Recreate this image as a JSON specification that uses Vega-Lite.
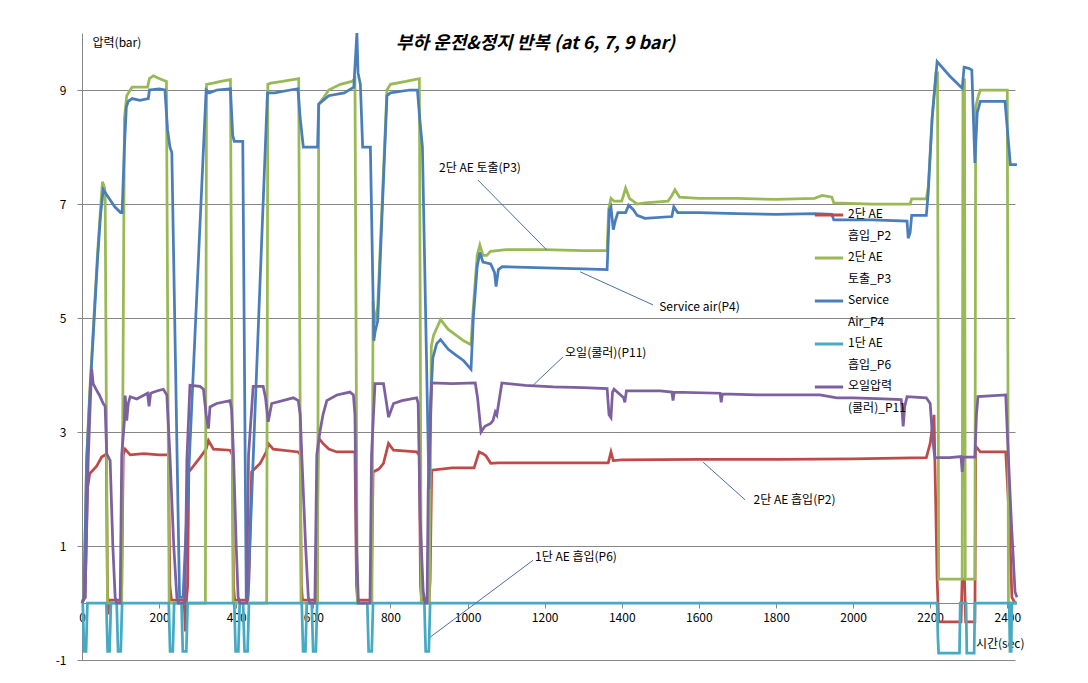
{
"$schema":"https://vega.github.io/schema/vega-lite/v6.json",
"width":933,"height":627,
"autosize":{"type":"none"},
"padding":{"left":82,"top":33,"right":73,"bottom":23},
"background":"#ffffff",
"title":{"text":"부하 운전&정지 반복 (at 6, 7, 9 bar)","fontSize":18,"fontWeight":"bold","fontStyle":"italic","font":"Noto Sans CJK KR","offset":-25,"dx":-13,"anchor":"middle","color":"#000000"},
"config":{"view":{"stroke":null},"font":"Noto Sans CJK KR"},
"datasets":{
"P2":[{"t":0,"p":0.1},{"t":8,"p":0.1},{"t":14,"p":2.0},{"t":20,"p":2.27},{"t":38,"p":2.4},{"t":51,"p":2.56},{"t":60,"p":2.6},{"t":63,"p":2.6},{"t":66,"p":0.3},{"t":68,"p":-0.2},{"t":70,"p":0.05},{"t":100,"p":0.05},{"t":103,"p":0.3},{"t":107,"p":2.6},{"t":112,"p":2.7},{"t":125,"p":2.6},{"t":160,"p":2.62},{"t":200,"p":2.6},{"t":224,"p":2.6},{"t":228,"p":0.3},{"t":232,"p":0.05},{"t":265,"p":0.05},{"t":268,"p":-0.5},{"t":271,"p":0.05},{"t":274,"p":0.3},{"t":277,"p":2.3},{"t":306,"p":2.55},{"t":322,"p":2.7},{"t":328,"p":2.85},{"t":341,"p":2.7},{"t":384,"p":2.68},{"t":390,"p":2.6},{"t":393,"p":0.3},{"t":396,"p":0.05},{"t":430,"p":0.05},{"t":433,"p":0.4},{"t":440,"p":2.3},{"t":462,"p":2.45},{"t":478,"p":2.65},{"t":483,"p":2.8},{"t":496,"p":2.7},{"t":561,"p":2.65},{"t":566,"p":2.6},{"t":569,"p":0.3},{"t":572,"p":0.05},{"t":606,"p":0.05},{"t":609,"p":0.4},{"t":613,"p":2.9},{"t":625,"p":2.8},{"t":640,"p":2.7},{"t":661,"p":2.65},{"t":708,"p":2.65},{"t":712,"p":0.3},{"t":715,"p":0.05},{"t":748,"p":0.05},{"t":751,"p":0.4},{"t":755,"p":2.3},{"t":770,"p":2.35},{"t":782,"p":2.45},{"t":795,"p":2.8},{"t":808,"p":2.68},{"t":868,"p":2.65},{"t":875,"p":2.6},{"t":878,"p":0.3},{"t":881,"p":0.05},{"t":900,"p":0.05},{"t":903,"p":0.4},{"t":907,"p":2.33},{"t":960,"p":2.37},{"t":1017,"p":2.37},{"t":1030,"p":2.65},{"t":1040,"p":2.62},{"t":1048,"p":2.58},{"t":1060,"p":2.45},{"t":1079,"p":2.46},{"t":1200,"p":2.46},{"t":1365,"p":2.46},{"t":1372,"p":2.65},{"t":1378,"p":2.5},{"t":1400,"p":2.51},{"t":1600,"p":2.52},{"t":1800,"p":2.52},{"t":2000,"p":2.53},{"t":2190,"p":2.55},{"t":2200,"p":2.8},{"t":2210,"p":3.3},{"t":2218,"p":0.42},{"t":2222,"p":-0.33},{"t":2280,"p":-0.33},{"t":2283,"p":0.42},{"t":2289,"p":0.42},{"t":2292,"p":-0.33},{"t":2316,"p":-0.33},{"t":2318,"p":2.75},{"t":2330,"p":2.65},{"t":2396,"p":2.65},{"t":2405,"p":1.5},{"t":2412,"p":0.1},{"t":2420,"p":0}],
"P3":[{"t":0,"p":0},{"t":5,"p":0.1},{"t":12,"p":2.5},{"t":20,"p":3.7},{"t":30,"p":4.9},{"t":40,"p":6.1},{"t":48,"p":6.9},{"t":53,"p":7.39},{"t":58,"p":7.3},{"t":60,"p":7.2},{"t":66,"p":0},{"t":103,"p":0},{"t":110,"p":8.5},{"t":116,"p":8.9},{"t":125,"p":9.0},{"t":130,"p":9.05},{"t":170,"p":9.05},{"t":175,"p":9.2},{"t":185,"p":9.25},{"t":200,"p":9.2},{"t":219,"p":9.15},{"t":226,"p":0},{"t":320,"p":0},{"t":323,"p":9.1},{"t":340,"p":9.12},{"t":360,"p":9.15},{"t":385,"p":9.18},{"t":392,"p":0},{"t":479,"p":0},{"t":482,"p":9.1},{"t":490,"p":9.12},{"t":520,"p":9.15},{"t":562,"p":9.2},{"t":568,"p":0},{"t":611,"p":0},{"t":614,"p":8.75},{"t":625,"p":8.85},{"t":640,"p":9.0},{"t":670,"p":9.1},{"t":700,"p":9.15},{"t":708,"p":9.2},{"t":714,"p":0},{"t":752,"p":0},{"t":755,"p":5.3},{"t":758,"p":4.9},{"t":767,"p":5.2},{"t":791,"p":9.0},{"t":800,"p":9.1},{"t":840,"p":9.15},{"t":875,"p":9.2},{"t":880,"p":0},{"t":901,"p":0},{"t":906,"p":4.5},{"t":912,"p":4.7},{"t":930,"p":4.97},{"t":950,"p":4.8},{"t":970,"p":4.7},{"t":990,"p":4.6},{"t":1009,"p":4.53},{"t":1013,"p":5.0},{"t":1025,"p":6.1},{"t":1032,"p":6.28},{"t":1040,"p":6.1},{"t":1050,"p":6.1},{"t":1060,"p":6.17},{"t":1100,"p":6.2},{"t":1200,"p":6.2},{"t":1300,"p":6.18},{"t":1362,"p":6.18},{"t":1366,"p":6.9},{"t":1372,"p":7.1},{"t":1380,"p":7.05},{"t":1400,"p":7.05},{"t":1410,"p":7.28},{"t":1420,"p":7.1},{"t":1440,"p":7.0},{"t":1460,"p":7.02},{"t":1520,"p":7.05},{"t":1530,"p":7.15},{"t":1538,"p":7.25},{"t":1550,"p":7.12},{"t":1600,"p":7.1},{"t":1700,"p":7.1},{"t":1800,"p":7.08},{"t":1900,"p":7.1},{"t":1920,"p":7.15},{"t":1945,"p":7.12},{"t":1950,"p":7.02},{"t":2050,"p":7.0},{"t":2148,"p":7.0},{"t":2152,"p":7.09},{"t":2190,"p":7.09},{"t":2195,"p":7.3},{"t":2205,"p":8.5},{"t":2215,"p":9.3},{"t":2219,"p":9.3},{"t":2222,"p":0.42},{"t":2283,"p":0.42},{"t":2285,"p":9.0},{"t":2289,"p":9.2},{"t":2291,"p":0.42},{"t":2316,"p":0.42},{"t":2318,"p":8.7},{"t":2325,"p":8.9},{"t":2330,"p":9.0},{"t":2400,"p":9.0},{"t":2403,"p":0},{"t":2425,"p":0}],
"P4":[{"t":0,"p":0},{"t":5,"p":0.1},{"t":12,"p":2.5},{"t":20,"p":3.6},{"t":30,"p":4.8},{"t":40,"p":6.0},{"t":48,"p":6.8},{"t":55,"p":7.25},{"t":60,"p":7.2},{"t":70,"p":7.1},{"t":85,"p":6.95},{"t":100,"p":6.85},{"t":104,"p":6.85},{"t":110,"p":8.0},{"t":115,"p":8.7},{"t":120,"p":8.8},{"t":130,"p":8.85},{"t":150,"p":8.82},{"t":172,"p":8.85},{"t":175,"p":9.0},{"t":200,"p":9.02},{"t":215,"p":9.0},{"t":222,"p":8.3},{"t":228,"p":8.0},{"t":233,"p":7.9},{"t":253,"p":0.1},{"t":262,"p":0.1},{"t":322,"p":9.0},{"t":330,"p":8.95},{"t":350,"p":9.0},{"t":385,"p":9.02},{"t":391,"p":8.2},{"t":395,"p":8.1},{"t":417,"p":8.1},{"t":426,"p":0.1},{"t":430,"p":0.1},{"t":481,"p":8.95},{"t":500,"p":8.95},{"t":540,"p":9.0},{"t":560,"p":9.02},{"t":566,"p":8.5},{"t":574,"p":8.0},{"t":611,"p":8.0},{"t":614,"p":8.75},{"t":640,"p":8.9},{"t":680,"p":8.95},{"t":705,"p":9.05},{"t":713,"p":10.0},{"t":716,"p":9.3},{"t":722,"p":9.1},{"t":728,"p":8.0},{"t":748,"p":8.0},{"t":757,"p":4.6},{"t":760,"p":4.75},{"t":767,"p":4.95},{"t":791,"p":8.9},{"t":800,"p":8.95},{"t":850,"p":9.0},{"t":870,"p":9.0},{"t":876,"p":8.5},{"t":883,"p":8.0},{"t":900,"p":2.0},{"t":904,"p":3.5},{"t":910,"p":4.3},{"t":920,"p":4.55},{"t":930,"p":4.62},{"t":950,"p":4.45},{"t":970,"p":4.35},{"t":990,"p":4.25},{"t":1009,"p":4.1},{"t":1015,"p":5.0},{"t":1025,"p":5.9},{"t":1032,"p":6.15},{"t":1040,"p":5.98},{"t":1060,"p":5.95},{"t":1070,"p":5.8},{"t":1074,"p":5.55},{"t":1080,"p":5.85},{"t":1090,"p":5.9},{"t":1200,"p":5.88},{"t":1300,"p":5.86},{"t":1362,"p":5.85},{"t":1368,"p":6.9},{"t":1372,"p":6.95},{"t":1378,"p":6.55},{"t":1383,"p":6.7},{"t":1390,"p":6.85},{"t":1410,"p":6.85},{"t":1418,"p":6.98},{"t":1430,"p":6.9},{"t":1440,"p":6.8},{"t":1460,"p":6.75},{"t":1530,"p":6.78},{"t":1535,"p":6.95},{"t":1545,"p":6.85},{"t":1600,"p":6.85},{"t":1700,"p":6.83},{"t":1800,"p":6.82},{"t":1900,"p":6.83},{"t":1945,"p":6.82},{"t":1950,"p":6.72},{"t":2050,"p":6.72},{"t":2140,"p":6.7},{"t":2143,"p":6.4},{"t":2148,"p":6.5},{"t":2152,"p":6.8},{"t":2190,"p":6.8},{"t":2195,"p":7.2},{"t":2205,"p":8.5},{"t":2218,"p":9.5},{"t":2250,"p":9.25},{"t":2283,"p":9.03},{"t":2288,"p":9.4},{"t":2300,"p":9.38},{"t":2308,"p":9.35},{"t":2316,"p":7.72},{"t":2322,"p":8.6},{"t":2330,"p":8.8},{"t":2394,"p":8.8},{"t":2408,"p":7.69},{"t":2425,"p":7.69}],
"P6":[{"t":0,"p":0},{"t":2,"p":0},{"t":4,"p":-0.5},{"t":5.5,"p":-0.85},{"t":10.5,"p":-0.85},{"t":12,"p":-0.5},{"t":14,"p":0},{"t":63,"p":0},{"t":65,"p":-0.5},{"t":66.5,"p":-0.85},{"t":71.5,"p":-0.85},{"t":73,"p":-0.5},{"t":75,"p":0},{"t":90,"p":0},{"t":92,"p":-0.5},{"t":93.5,"p":-0.85},{"t":100.5,"p":-0.85},{"t":102,"p":-0.5},{"t":104,"p":0},{"t":225,"p":0},{"t":227,"p":-0.5},{"t":228.5,"p":-0.85},{"t":235.5,"p":-0.85},{"t":237,"p":-0.5},{"t":239,"p":0},{"t":258,"p":0},{"t":260,"p":-0.5},{"t":261.5,"p":-0.85},{"t":270.5,"p":-0.85},{"t":272,"p":-0.5},{"t":274,"p":0},{"t":395,"p":0},{"t":397,"p":-0.5},{"t":398.5,"p":-0.85},{"t":405.5,"p":-0.85},{"t":407,"p":-0.5},{"t":409,"p":0},{"t":418,"p":0},{"t":420,"p":-0.5},{"t":421.5,"p":-0.85},{"t":429.5,"p":-0.85},{"t":431,"p":-0.5},{"t":433,"p":0},{"t":570,"p":0},{"t":572,"p":-0.5},{"t":573.5,"p":-0.85},{"t":579.5,"p":-0.85},{"t":581,"p":-0.5},{"t":583,"p":0},{"t":596,"p":0},{"t":598,"p":-0.5},{"t":599.5,"p":-0.85},{"t":606.5,"p":-0.85},{"t":608,"p":-0.5},{"t":610,"p":0},{"t":740,"p":0},{"t":742,"p":-0.5},{"t":743.5,"p":-0.85},{"t":751.5,"p":-0.85},{"t":753,"p":-0.5},{"t":755,"p":0},{"t":888,"p":0},{"t":890,"p":-0.5},{"t":891.5,"p":-0.85},{"t":899.5,"p":-0.85},{"t":901,"p":-0.5},{"t":903,"p":0},{"t":2218,"p":0},{"t":2220,"p":-0.6},{"t":2222,"p":-0.88},{"t":2276,"p":-0.88},{"t":2278,"p":0},{"t":2293,"p":0},{"t":2295,"p":-0.88},{"t":2314,"p":-0.88},{"t":2316,"p":0},{"t":2405,"p":0},{"t":2407,"p":-0.85},{"t":2410,"p":-0.85},{"t":2412,"p":0},{"t":2425,"p":0}],
"P11":[{"t":0,"p":0},{"t":8,"p":0.1},{"t":16,"p":2.5},{"t":22,"p":3.6},{"t":25,"p":4.11},{"t":29,"p":3.85},{"t":38,"p":3.73},{"t":45,"p":3.65},{"t":55,"p":3.5},{"t":60,"p":3.45},{"t":64,"p":2.62},{"t":73,"p":2.5},{"t":80,"p":1.0},{"t":86,"p":0.1},{"t":90,"p":0},{"t":99,"p":0},{"t":103,"p":2.6},{"t":110,"p":3.2},{"t":112,"p":3.64},{"t":116,"p":3.2},{"t":120,"p":3.5},{"t":125,"p":3.62},{"t":142,"p":3.58},{"t":170,"p":3.68},{"t":174,"p":3.45},{"t":178,"p":3.68},{"t":194,"p":3.72},{"t":211,"p":3.75},{"t":220,"p":3.65},{"t":228,"p":2.6},{"t":238,"p":1.0},{"t":246,"p":0.1},{"t":250,"p":0},{"t":267,"p":0},{"t":272,"p":2.5},{"t":280,"p":3.82},{"t":306,"p":3.8},{"t":315,"p":3.75},{"t":322,"p":3.3},{"t":328,"p":3.06},{"t":332,"p":3.44},{"t":349,"p":3.5},{"t":384,"p":3.55},{"t":388,"p":3.4},{"t":393,"p":2.6},{"t":400,"p":1.0},{"t":405,"p":0.1},{"t":410,"p":0},{"t":427,"p":0},{"t":432,"p":2.6},{"t":444,"p":3.8},{"t":470,"p":3.8},{"t":476,"p":3.6},{"t":483,"p":3.18},{"t":492,"p":3.5},{"t":548,"p":3.6},{"t":561,"p":3.55},{"t":566,"p":3.3},{"t":570,"p":2.6},{"t":580,"p":1.0},{"t":587,"p":0.1},{"t":591,"p":0},{"t":604,"p":0},{"t":609,"p":2.6},{"t":617,"p":3.0},{"t":625,"p":3.3},{"t":635,"p":3.55},{"t":661,"p":3.65},{"t":695,"p":3.7},{"t":704,"p":3.65},{"t":708,"p":3.3},{"t":712,"p":1.0},{"t":717,"p":0},{"t":747,"p":0},{"t":751,"p":2.6},{"t":760,"p":3.85},{"t":782,"p":3.85},{"t":790,"p":3.5},{"t":795,"p":3.26},{"t":808,"p":3.5},{"t":830,"p":3.55},{"t":868,"p":3.6},{"t":872,"p":3.5},{"t":877,"p":1.5},{"t":885,"p":0.2},{"t":890,"p":0},{"t":895,"p":0},{"t":898,"p":2.0},{"t":907,"p":3.86},{"t":960,"p":3.85},{"t":1020,"p":3.86},{"t":1026,"p":3.6},{"t":1035,"p":3.0},{"t":1045,"p":3.1},{"t":1060,"p":3.15},{"t":1066,"p":3.2},{"t":1072,"p":3.35},{"t":1076,"p":3.3},{"t":1089,"p":3.86},{"t":1150,"p":3.82},{"t":1222,"p":3.79},{"t":1300,"p":3.78},{"t":1362,"p":3.76},{"t":1367,"p":3.3},{"t":1372,"p":3.25},{"t":1376,"p":3.7},{"t":1380,"p":3.75},{"t":1405,"p":3.6},{"t":1408,"p":3.52},{"t":1412,"p":3.72},{"t":1500,"p":3.72},{"t":1530,"p":3.7},{"t":1533,"p":3.55},{"t":1536,"p":3.7},{"t":1655,"p":3.68},{"t":1658,"p":3.52},{"t":1661,"p":3.67},{"t":1750,"p":3.65},{"t":1914,"p":3.65},{"t":1958,"p":3.6},{"t":2000,"p":3.6},{"t":2080,"p":3.58},{"t":2125,"p":3.57},{"t":2130,"p":3.1},{"t":2134,"p":3.45},{"t":2140,"p":3.62},{"t":2190,"p":3.6},{"t":2200,"p":3.5},{"t":2206,"p":2.9},{"t":2212,"p":2.55},{"t":2250,"p":2.55},{"t":2280,"p":2.57},{"t":2283,"p":2.3},{"t":2286,"p":2.56},{"t":2316,"p":2.56},{"t":2320,"p":3.3},{"t":2324,"p":3.62},{"t":2396,"p":3.65},{"t":2400,"p":3.0},{"t":2410,"p":1.5},{"t":2420,"p":0.2},{"t":2425,"p":0.1}],
"notes":[
{"label":"2단 AE 토출(P3)","tx":926,"ty":7.63,"x1":1027,"y1":7.42,"x2":1206,"y2":6.19},
{"label":"Service air(P4)","tx":1497,"ty":5.19,"x1":1292,"y1":5.81,"x2":1481,"y2":5.23},
{"label":"오일(쿨러)(P11)","tx":1253,"ty":4.39,"x1":1248,"y1":4.32,"x2":1170,"y2":3.82},
{"label":"2단 AE 흡입(P2)","tx":1742,"ty":1.8,"x1":1611,"y1":2.47,"x2":1720,"y2":1.81},
{"label":"1단 AE 흡입(P6)","tx":1175,"ty":0.81,"x1":903,"y1":-0.6,"x2":1170,"y2":0.75}
]},
"layer":[
{"data":{"name":"P2"},"mark":{"type":"line","strokeWidth":2.75},
 "encoding":{
  "x":{"field":"t","type":"quantitative","title":"시간(sec)","scale":{"domain":[0,2420],"nice":false,"zero":false},
   "axis":{"values":[0,100,200,300,400,500,600,700,800,900,1000,1100,1200,1300,1400,1500,1600,1700,1800,1900,2000,2100,2200,2300,2400],"labelExpr":"datum.value % 200 == 0 ? '' + datum.value : ''","offset":-57,"grid":false,"domainColor":"#868686","tickColor":"#868686","tickSize":5,"labelFontSize":12,"labelColor":"#000000","labelPadding":4,"labelFlush":false,"labelOverlap":false,"titleX":942,"titleY":40,"titleAlign":"right","titleBaseline":"middle","titleFontWeight":"normal","titleFontSize":12,"titleColor":"#000000"}},
  "y":{"field":"p","type":"quantitative","title":"압력(bar)","scale":{"domain":[-1,10],"nice":false,"zero":false},
   "axis":{"values":[-1,1,3,5,7,9],"labelExpr":"'' + datum.value","grid":true,"gridColor":"#868686","domainColor":"#868686","tickColor":"#868686","tickSize":5,"labelPadding":11,"labelFontSize":12,"labelColor":"#000000","titleAngle":0,"titleX":10,"titleY":9,"titleAlign":"left","titleBaseline":"middle","titleFontWeight":"normal","titleFontSize":12,"titleColor":"#000000"}},
  "color":{"datum":"2단 AE|흡입_P2","scale":{"domain":["2단 AE|흡입_P2","2단 AE|토출_P3","Service|Air_P4","1단 AE|흡입_P6","오일압력|(쿨러)_P11"],"range":["#BE4B48","#98B954","#4A7EBB","#46AAC5","#7D60A0"]},
   "legend":{"orient":"none","legendX":731,"legendY":166,"title":null,"symbolType":"stroke","symbolSize":800,"symbolStrokeWidth":3,"labelFont":"Noto Sans CJK KR","labelFontSize":12,"labelColor":"#000000","labelExpr":"split(datum.label,'|')","labelBaseline":"top","rowPadding":-1,"padding":0,"labelOffset":3,"labelLimit":200,
    "encode":{"labels":{"update":{"lineHeight":{"value":22},"dy":{"value":-6}}}}}}
 }},
{"data":{"name":"P3"},"mark":{"type":"line","strokeWidth":2.75},
 "encoding":{"x":{"field":"t","type":"quantitative","title":"시간(sec)","scale":{"domain":[0,2420],"nice":false,"zero":false}},"y":{"field":"p","type":"quantitative","title":"압력(bar)","scale":{"domain":[-1,10],"nice":false,"zero":false}},"color":{"datum":"2단 AE|토출_P3"}}},
{"data":{"name":"P4"},"mark":{"type":"line","strokeWidth":2.75},
 "encoding":{"x":{"field":"t","type":"quantitative","title":"시간(sec)","scale":{"domain":[0,2420],"nice":false,"zero":false}},"y":{"field":"p","type":"quantitative","title":"압력(bar)","scale":{"domain":[-1,10],"nice":false,"zero":false}},"color":{"datum":"Service|Air_P4"}}},
{"data":{"name":"P6"},"mark":{"type":"line","strokeWidth":2.75},
 "encoding":{"x":{"field":"t","type":"quantitative","title":"시간(sec)","scale":{"domain":[0,2420],"nice":false,"zero":false}},"y":{"field":"p","type":"quantitative","title":"압력(bar)","scale":{"domain":[-1,10],"nice":false,"zero":false}},"color":{"datum":"1단 AE|흡입_P6"}}},
{"data":{"name":"P11"},"mark":{"type":"line","strokeWidth":2.75},
 "encoding":{"x":{"field":"t","type":"quantitative","title":"시간(sec)","scale":{"domain":[0,2420],"nice":false,"zero":false}},"y":{"field":"p","type":"quantitative","title":"압력(bar)","scale":{"domain":[-1,10],"nice":false,"zero":false}},"color":{"datum":"오일압력|(쿨러)_P11"}}},
{"data":{"name":"notes"},"mark":{"type":"rule","color":"#4A6FA5","strokeWidth":1},
 "encoding":{"x":{"field":"x1","type":"quantitative","title":"시간(sec)","scale":{"domain":[0,2420],"nice":false,"zero":false}},"y":{"field":"y1","type":"quantitative","title":"압력(bar)","scale":{"domain":[-1,10],"nice":false,"zero":false}},"x2":{"field":"x2"},"y2":{"field":"y2"}}},
{"data":{"name":"notes"},"mark":{"type":"text","align":"left","baseline":"middle","fontSize":12,"font":"Noto Sans CJK KR","color":"#000000"},
 "encoding":{"x":{"field":"tx","type":"quantitative","title":"시간(sec)","scale":{"domain":[0,2420],"nice":false,"zero":false}},"y":{"field":"ty","type":"quantitative","title":"압력(bar)","scale":{"domain":[-1,10],"nice":false,"zero":false}},"text":{"field":"label"}}}
]
}
